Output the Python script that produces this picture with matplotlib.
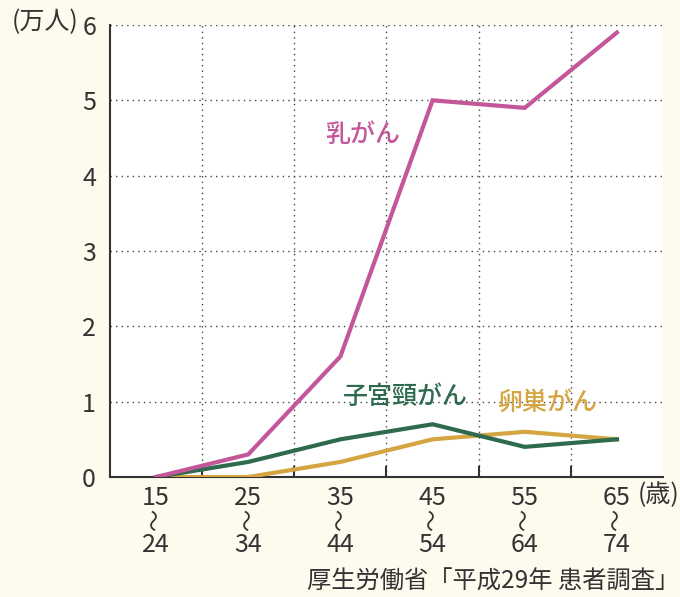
import matplotlib.pyplot as plt
from matplotlib.ticker import FixedLocator

plt.rcParams['font.family'] = ['Noto Sans CJK JP', 'DejaVu Sans']

# 年齢階級ごとの患者数（万人）
age_from = ['15', '25', '35', '45', '55', '65']
age_to = ['24', '34', '44', '54', '64', '74']
nyu_gan = [0, 0.3, 1.6, 5.0, 4.9, 5.9]
shikyu_gan = [0, 0.2, 0.5, 0.7, 0.4, 0.5]
ransou_gan = [0, 0, 0.2, 0.5, 0.6, 0.5]

bg = '#fdfaee'
c_pink = '#c4579a'
c_green = '#2d6a4e'
c_gold = '#d4a541'
c_text = '#333333'

fig = plt.figure(figsize=(6.8, 5.97), dpi=100, facecolor=bg)
ax = fig.add_axes([110/680, 120/597, 553/680, 452/597])
ax.set_facecolor('white')

x = list(range(len(age_from)))
ax.plot(x, ransou_gan, color=c_gold, linewidth=3, solid_joinstyle='miter', zorder=3)
ax.plot(x, shikyu_gan, color=c_green, linewidth=3, solid_joinstyle='miter', zorder=4)
ax.plot(x, nyu_gan, color=c_pink, linewidth=3, solid_joinstyle='miter', zorder=5)

ax.set_xlim(-0.5, 5.5)
ax.set_ylim(0, 6)
ax.set_xticks(x)
ax.set_xticklabels([])
ax.xaxis.set_minor_locator(FixedLocator([0.5, 1.5, 2.5, 3.5, 4.5]))
ax.tick_params(axis='x', which='major', length=0)
ax.tick_params(axis='x', which='minor', direction='in', length=8, width=1.5, color=c_text)
ax.set_yticks(range(7))
ax.set_yticklabels([str(v) for v in range(7)], fontsize=18, color=c_text)
ax.tick_params(axis='y', length=0, pad=10)

# 年齢階級ラベル（縦並び：開始・〜・終了）
for i, (a, b) in enumerate(zip(age_from, age_to)):
    kw = dict(xy=(i, 0), xycoords=('data', 'axes fraction'), textcoords='offset points',
              color=c_text, ha='center', va='center')
    ax.annotate(a, xytext=(0, -15), fontsize=18, **kw)
    ax.annotate('〜', xytext=(0, -31), rotation=90, fontsize=16, **kw)
    ax.annotate(b, xytext=(0, -49), fontsize=18, **kw)

ax.grid(axis='y', which='major', linestyle=(0, (1, 3)), color='#444444', linewidth=1)
ax.grid(axis='x', which='minor', linestyle=(0, (1, 3)), color='#444444', linewidth=1)

for s in ['top', 'right']:
    ax.spines[s].set_visible(False)
for s in ['left', 'bottom']:
    ax.spines[s].set_color(c_text)
    ax.spines[s].set_linewidth(1.5)

ax.text(2.245, 4.54, '乳がん', color=c_pink, fontsize=18, fontweight='medium', ha='center', va='center')
ax.text(2.70, 1.06, '子宮頸がん', color=c_green, fontsize=18, fontweight='medium', ha='center', va='center')
ax.text(4.24, 0.98, '卵巣がん', color=c_gold, fontsize=18, fontweight='medium', ha='center', va='center')

fig.text(12/680, 1 - 22/597, '(万人)', fontsize=18, color=c_text, ha='left', va='center')
fig.text(638/680, 1 - 495/597, '(歳)', fontsize=18, color=c_text, ha='left', va='center')
fig.text(679/680, 1 - 582/597, '厚生労働省「平成29年 患者調査」', fontsize=17.5, color=c_text,
         ha='right', va='center')

fig.savefig('out.png', dpi=100, facecolor=bg)
